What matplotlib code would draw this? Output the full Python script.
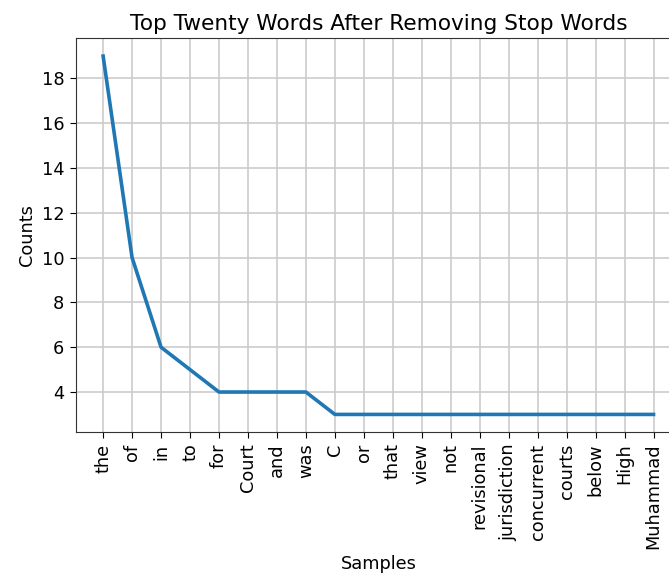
import matplotlib
matplotlib.use("Agg")
import matplotlib.pyplot as plt

# word frequencies after stop-word removal
words = ["the", "of", "in", "to", "for", "Court", "and", "was", "C", "or",
         "that", "view", "not", "revisional", "jurisdiction", "concurrent",
         "courts", "below", "High", "Muhammad"]
counts = [19, 10, 6, 5, 4, 4, 4, 4, 3, 3, 3, 3, 3, 3, 3, 3, 3, 3, 3, 3]

plt.rcParams["font.size"] = 12.8
plt.rcParams["axes.edgecolor"] = "#333333"
plt.rcParams["xtick.major.size"] = 4.5
plt.rcParams["ytick.major.size"] = 4.5

fig, ax = plt.subplots(figsize=(6.69, 5.78), dpi=100)
ax.grid(True, color="#cccccc", linewidth=1.2)
ax.plot(words, counts, linewidth=2.6)
ax.set_xticks(range(len(words)))
ax.set_xticklabels(words, rotation=90)
ax.set_title("Top Twenty Words After Removing Stop Words", fontsize=15.6)
ax.set_xlabel("Samples")
ax.set_ylabel("Counts")
# the plot area runs slightly past the right edge of the canvas
fig.subplots_adjust(left=0.113, right=1.018, top=0.934, bottom=0.252)
fig.savefig("out.png")
